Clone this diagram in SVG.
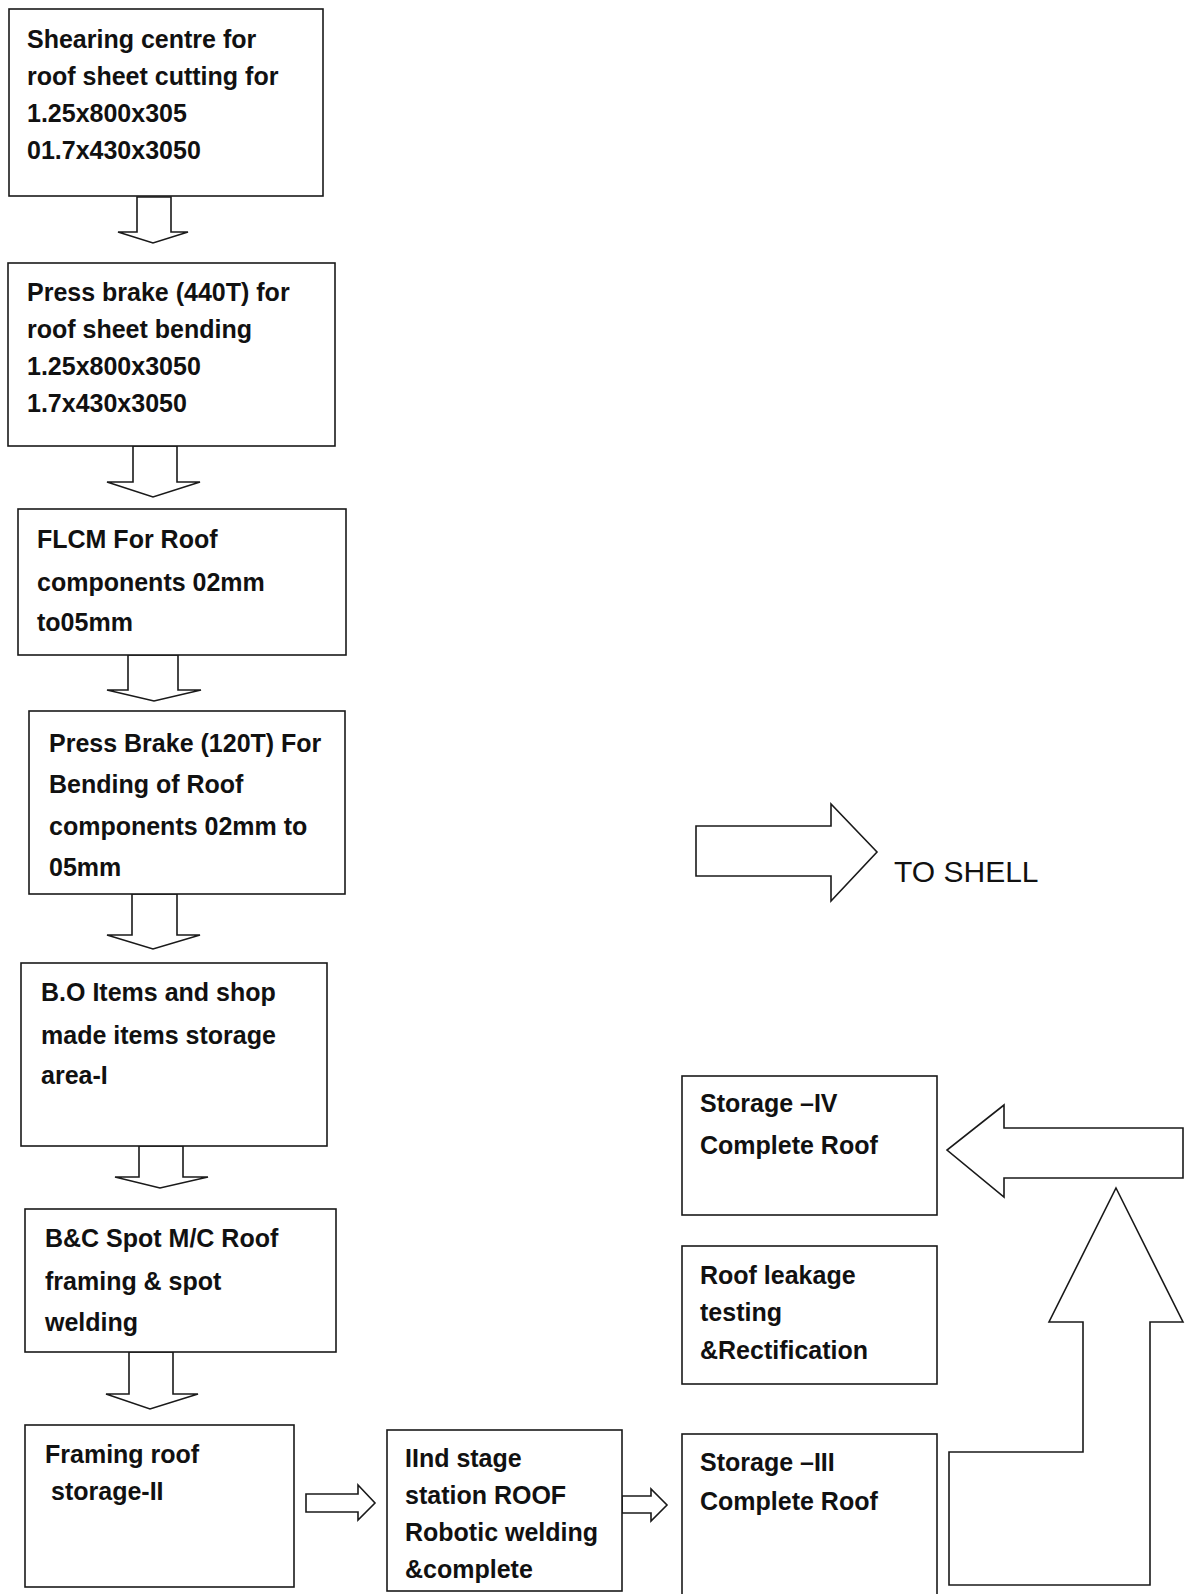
<svg xmlns="http://www.w3.org/2000/svg" width="1194" height="1594" viewBox="0 0 1194 1594">
<style>
.box{fill:#fff;stroke:#1a1a1a;stroke-width:1.6}
.arr{fill:#fff;stroke:#1a1a1a;stroke-width:1.6;stroke-linejoin:miter}
.t{font-family:"Liberation Sans",Arial,sans-serif;font-weight:bold;font-size:25px;fill:#111}
.big{font-family:"Liberation Sans",Arial,sans-serif;font-size:30px;fill:#111}
</style>
<rect width="1194" height="1594" fill="#fff"/>
<g id="connectors">
<polygon class="arr" points="137,197 171,197 171,232 188,232 153,243 118,232 137,232"/>
<polygon class="arr" points="133,446 177,446 177,482 200,482 153,497 107,482 133,482"/>
<polygon class="arr" points="128,655 178,655 178,690 201,690 154,701 107,690 128,690"/>
<polygon class="arr" points="132,894 177,894 177,935 200,935 153,949 107,935 132,935"/>
<polygon class="arr" points="139,1146 183,1146 183,1177 208,1177 160,1188 115,1177 139,1177"/>
<polygon class="arr" points="129,1352 173,1352 173,1394 198,1394 150,1409 106,1394 129,1394"/>
<polygon class="arr" points="306,1494 358,1494 358,1485 375,1503 358,1520 358,1512 306,1512"/>
<polygon class="arr" points="622,1496 651,1496 651,1489 667,1505 651,1521 651,1513 622,1513"/>
<polygon class="arr" points="696,826 831,826 831,804 877,852 831,901 831,876 696,876"/>
<polygon class="arr" points="1183,1128 1183,1178 1004,1178 1004,1197 947,1150 1004,1105 1004,1128"/>
<polygon class="arr" points="1116,1188 1183,1322 1150,1322 1150,1585 949,1585 949,1452 1083,1452 1083,1322 1049,1322"/>
</g>
<g id="n1"><rect class="box" x="9" y="9" width="314" height="187"/>
<text class="t" x="27" y="48">Shearing centre for</text>
<text class="t" x="27" y="85">roof sheet cutting for</text>
<text class="t" x="27" y="122">1.25x800x305</text>
<text class="t" x="27" y="159">01.7x430x3050</text></g>
<g id="n2"><rect class="box" x="8" y="263" width="327" height="183"/>
<text class="t" x="27" y="301">Press brake (440T) for</text>
<text class="t" x="27" y="338">roof sheet bending</text>
<text class="t" x="27" y="375">1.25x800x3050</text>
<text class="t" x="27" y="412">1.7x430x3050</text></g>
<g id="n3"><rect class="box" x="18" y="509" width="328" height="146"/>
<text class="t" x="37" y="548">FLCM For Roof</text>
<text class="t" x="37" y="591">components 02mm</text>
<text class="t" x="37" y="631">to05mm</text></g>
<g id="n4"><rect class="box" x="29" y="711" width="316" height="183"/>
<text class="t" x="49" y="752">Press Brake (120T) For</text>
<text class="t" x="49" y="793">Bending of Roof</text>
<text class="t" x="49" y="835">components 02mm to</text>
<text class="t" x="49" y="876">05mm</text></g>
<g id="n5"><rect class="box" x="21" y="963" width="306" height="183"/>
<text class="t" x="41" y="1001">B.O Items and shop</text>
<text class="t" x="41" y="1044">made items storage</text>
<text class="t" x="41" y="1084">area-I</text></g>
<g id="n6"><rect class="box" x="25" y="1209" width="311" height="143"/>
<text class="t" x="45" y="1247">B&amp;C Spot M/C Roof</text>
<text class="t" x="45" y="1290">framing &amp; spot</text>
<text class="t" x="45" y="1331">welding</text></g>
<g id="n7"><rect class="box" x="25" y="1425" width="269" height="162"/>
<text class="t" x="45" y="1463">Framing roof</text>
<text class="t" x="51" y="1500">storage-II</text></g>
<g id="n8"><rect class="box" x="387" y="1430" width="235" height="161"/>
<text class="t" x="405" y="1467">IInd stage</text>
<text class="t" x="405" y="1504">station ROOF</text>
<text class="t" x="405" y="1541">Robotic welding</text>
<text class="t" x="405" y="1578">&amp;complete</text></g>
<g id="n9"><rect class="box" x="682" y="1434" width="255" height="170"/>
<text class="t" x="700" y="1471">Storage –III</text>
<text class="t" x="700" y="1510">Complete Roof</text></g>
<g id="n10"><rect class="box" x="682" y="1246" width="255" height="138"/>
<text class="t" x="700" y="1284">Roof leakage</text>
<text class="t" x="700" y="1321">testing</text>
<text class="t" x="700" y="1359">&amp;Rectification</text></g>
<g id="n11"><rect class="box" x="682" y="1076" width="255" height="139"/>
<text class="t" x="700" y="1112">Storage –IV</text>
<text class="t" x="700" y="1154">Complete Roof</text></g>
<g id="n12"><text class="big" x="894" y="882">TO SHELL</text></g>
</svg>
